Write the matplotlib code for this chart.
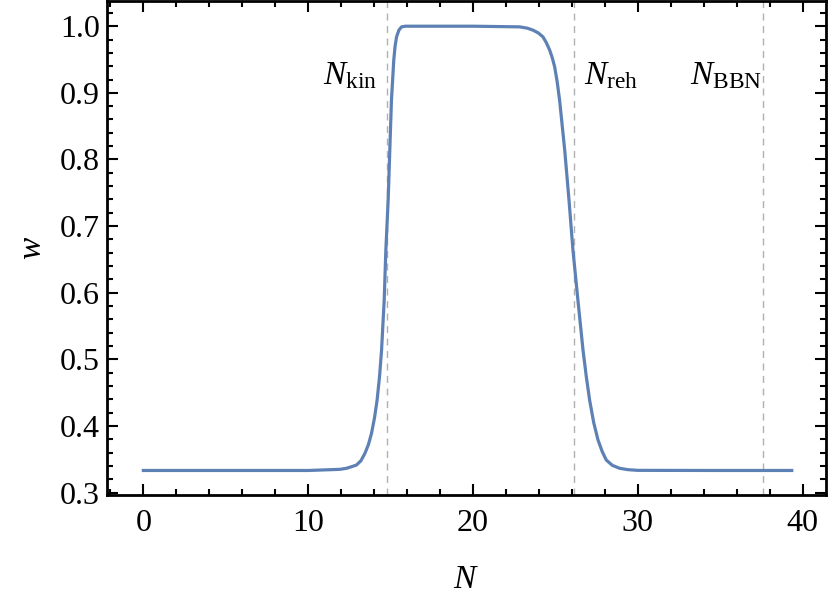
import matplotlib
matplotlib.use("Agg")
import matplotlib.pyplot as plt
from matplotlib.ticker import MultipleLocator

plt.rcParams['font.family'] = 'Liberation Serif'
plt.rcParams['mathtext.fontset'] = 'custom'
plt.rcParams['mathtext.rm'] = 'Liberation Serif'
plt.rcParams['mathtext.it'] = 'Liberation Serif:italic'

# equation of state w(N)
N_vals = [0.0, 5.0, 10.0, 11.92, 12.33, 12.63, 12.93, 13.2, 13.44, 13.65,
          13.84, 14.02, 14.18, 14.33, 14.45, 14.61, 14.71, 14.85, 14.95,
          15.05, 15.19, 15.27, 15.36, 15.5, 15.66, 15.9, 16.16,
          20.0, 22.83, 23.3, 23.64, 23.95, 24.24, 24.45, 24.65, 24.8, 24.95,
          25.1, 25.25, 25.56, 25.82, 26.06, 26.36, 26.67, 26.87, 27.07,
          27.32, 27.58, 27.83, 28.08, 28.45, 28.89, 29.4, 30.0, 35.0, 39.33]
w_vals = [0.3333, 0.3333, 0.3333, 0.335, 0.3366, 0.339, 0.3415, 0.348, 0.359, 0.372,
          0.389, 0.412, 0.439, 0.475, 0.514, 0.589, 0.664, 0.739, 0.814,
          0.889, 0.949, 0.970, 0.984, 0.994, 0.999, 1.0, 1.0,
          1.0, 0.999, 0.997, 0.994, 0.990, 0.984, 0.975, 0.964, 0.953, 0.939,
          0.917, 0.889, 0.814, 0.739, 0.664, 0.589, 0.514, 0.474, 0.439,
          0.405, 0.379, 0.362, 0.349, 0.341, 0.3366, 0.3345, 0.3335, 0.3333, 0.3333]

# marked epochs
epoch_N = [14.75, 26.12, 37.58]
epoch_labels = [r'$N_{\rm kin}$', r'$N_{\rm reh}$', r'$N_{\rm BBN}$']

fig = plt.figure(figsize=(8.3, 6.07), dpi=100)
ax = fig.add_axes([0.129, 0.1845, 0.866, 0.8135])

for n in epoch_N:
    ax.axvline(n, color='#b0b0b0', lw=1.0, ls=(0, (5, 4)), zorder=1)

ax.plot(N_vals, w_vals, color='#5E81B5', lw=2.3, zorder=2,
        solid_joinstyle='round')

ax.text(epoch_N[0] - 0.55, 0.925, epoch_labels[0], fontsize=24, ha='right', va='center')
ax.text(epoch_N[1] + 0.6, 0.925, epoch_labels[1], fontsize=24, ha='left', va='center')
ax.text(epoch_N[2] - 0.05, 0.925, epoch_labels[2], fontsize=24, ha='right', va='center')

ax.set_xlim(-2.2, 41.4)
ax.set_ylim(0.2965, 1.0375)
ax.xaxis.set_major_locator(MultipleLocator(10))
ax.xaxis.set_minor_locator(MultipleLocator(2))
ax.yaxis.set_major_locator(MultipleLocator(0.1))
ax.yaxis.set_minor_locator(MultipleLocator(0.02))
ax.yaxis.set_major_formatter(plt.FuncFormatter(lambda v, p: f'{v:.1f}'))

ax.tick_params(which='both', direction='in', top=True, right=True, width=1.5,
               labelsize=23, color='black')
ax.tick_params(which='major', length=8)
ax.tick_params(which='minor', length=4.5)
ax.tick_params(axis='x', which='major', pad=10)
ax.tick_params(axis='y', which='major', pad=5)
for s in ax.spines.values():
    s.set_linewidth(2.0)

ax.set_xlabel(r'$N$', fontsize=24)
ax.set_ylabel(r'$w$', fontsize=24)
ax.xaxis.set_label_coords(0.5, -0.172)
ax.yaxis.set_label_coords(-0.104, 0.5)
ax.xaxis.label.set_va('center')
ax.yaxis.label.set_va('center')

fig.savefig('out.png', dpi=100)
